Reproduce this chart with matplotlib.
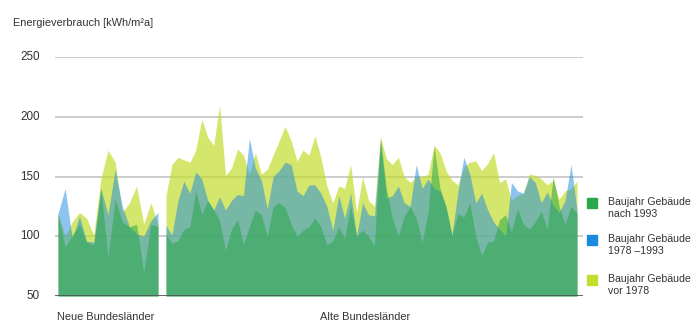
import numpy as np
import matplotlib
matplotlib.use("Agg")
import matplotlib.pyplot as plt
from matplotlib.patches import Rectangle

plt.rcParams['font.family'] = ['Liberation Sans', 'DejaVu Sans']

# ---- data ----
title = "Energieverbrauch [kWh/m²a]"
region_labels = ["Neue Bundesländer", "Alte Bundesländer"]
series_labels = ["Baujahr Gebäude\nnach 1993", "Baujahr Gebäude\n1978 –1993", "Baujahr Gebäude\nvor 1978"]
yticks = [50, 100, 150, 200, 250]

# Neue Bundesländer
neue_nach1993 = [119, 91, 101, 110, 95, 93, 140, 83, 131, 112, 108, 110, 70, 110, 108]
neue_1978_1993 = [119, 140, 98, 117, 96, 95, 140, 118, 156, 125, 108, 102, 100, 113, 120]
neue_vor1978 = [119, 100, 112, 120, 115, 101, 148, 172, 162, 120, 128, 142, 110, 128, 110]

# Alte Bundesländer
alte_nach1993 = [102, 94, 96, 106, 108, 138, 118, 130, 122, 113, 88, 106, 114, 93, 108,
                 122, 118, 100, 125, 128, 124, 110, 100, 105, 108, 115, 108, 93, 96, 108,
                 98, 125, 100, 105, 100, 92, 182, 140, 115, 100, 117, 125, 115, 95, 120,
                 175, 140, 125, 101, 119, 116, 128, 100, 84, 95, 96, 114, 118, 104, 123,
                 110, 106, 112, 121, 106, 150, 125, 110, 125, 119]
alte_1978_1993 = [109, 101, 130, 146, 136, 154, 148, 130, 122, 133, 122, 130, 135, 134, 182,
                  157, 147, 123, 150, 155, 162, 160, 138, 134, 143, 143, 136, 125, 105, 134,
                  115, 136, 100, 128, 118, 117, 179, 132, 134, 142, 128, 125, 160, 140, 148,
                  140, 138, 125, 101, 137, 166, 152, 128, 136, 122, 112, 106, 100, 145, 138,
                  136, 150, 145, 128, 137, 126, 120, 130, 160, 122]
alte_vor1978 = [134, 160, 166, 164, 162, 172, 198, 183, 176, 210, 151, 157, 173, 168, 152,
                170, 152, 156, 168, 180, 192, 180, 163, 172, 168, 184, 166, 142, 128, 142,
                140, 160, 120, 150, 130, 125, 183, 165, 160, 166, 150, 145, 150, 150, 152,
                176, 170, 155, 147, 143, 158, 162, 163, 155, 161, 170, 145, 148, 130, 134,
                136, 152, 151, 148, 143, 147, 131, 138, 140, 146]

# ---- style ----
c_green = "#2ba84a"
c_blue = "#1a8ae0"
c_yellow = "#c3dc2d"
alphas = {"yellow": 0.7, "blue": 0.5, "green": 0.55}
text_col = "#333333"
fs = 7.9
fs_leg = 7.6

fig = plt.figure(figsize=(7.0, 3.27), dpi=100)
W, H = 700, 327
ax = fig.add_axes([55 / W, 1 - 296 / H, (583 - 55) / W, (296 - 57) / H])
ax.set_xlim(-3, 525)
ax.set_ylim(50, 250)

x_neue = np.linspace(0, 100, len(neue_nach1993))
x_alte = np.linspace(108, 519, len(alte_nach1993))

for xs, y_, b_, g_ in [(x_neue, neue_vor1978, neue_1978_1993, neue_nach1993),
                       (x_alte, alte_vor1978, alte_1978_1993, alte_nach1993)]:
    ax.fill_between(xs, 50, y_, color=c_yellow, alpha=alphas["yellow"], lw=0, zorder=2)
    ax.fill_between(xs, 50, b_, color=c_blue, alpha=alphas["blue"], lw=0, zorder=3)
    ax.fill_between(xs, 50, g_, color=c_green, alpha=alphas["green"], lw=0, zorder=4)

# grid
for yv in yticks[1:]:
    ax.axhline(yv, color="#c8c8c8", lw=1.3, zorder=1)
ax.axhline(50, color="#555555", lw=2.0, zorder=5)

for s in ax.spines.values():
    s.set_visible(False)
ax.set_xticks([])
ax.set_yticks(yticks)
ax.set_yticklabels([str(v) for v in yticks], fontsize=8.4, color=text_col)
ax.tick_params(axis='y', length=0, pad=11)
for lbl in ax.get_yticklabels():
    lbl.set_verticalalignment('center')

# region labels
ax.text(x_neue.mean() - 2, -0.065, region_labels[0], transform=ax.get_xaxis_transform(),
        ha='center', va='top', fontsize=fs, color=text_col)
ax.text(x_alte.mean() - 6, -0.065, region_labels[1], transform=ax.get_xaxis_transform(),
        ha='center', va='top', fontsize=fs, color=text_col)

# title
fig.text(13 / W, 1 - 26 / H, title, ha='left', va='baseline', fontsize=fs, color=text_col)

# legend
leg_cols = [c_green, c_blue, c_yellow]
leg_y = [203, 240, 280]
for col, yc, lab in zip(leg_cols, leg_y, series_labels):
    fig.patches.append(Rectangle((587 / W, 1 - (yc + 5) / H), 10 / W, 10 / H,
                                 transform=fig.transFigure, color=col, figure=fig))
    fig.text(608 / W, 1 - (yc - 6) / H, lab, ha='left', va='top', fontsize=fs_leg,
             color=text_col, linespacing=1.2)

fig.savefig("out.png", dpi=100)
